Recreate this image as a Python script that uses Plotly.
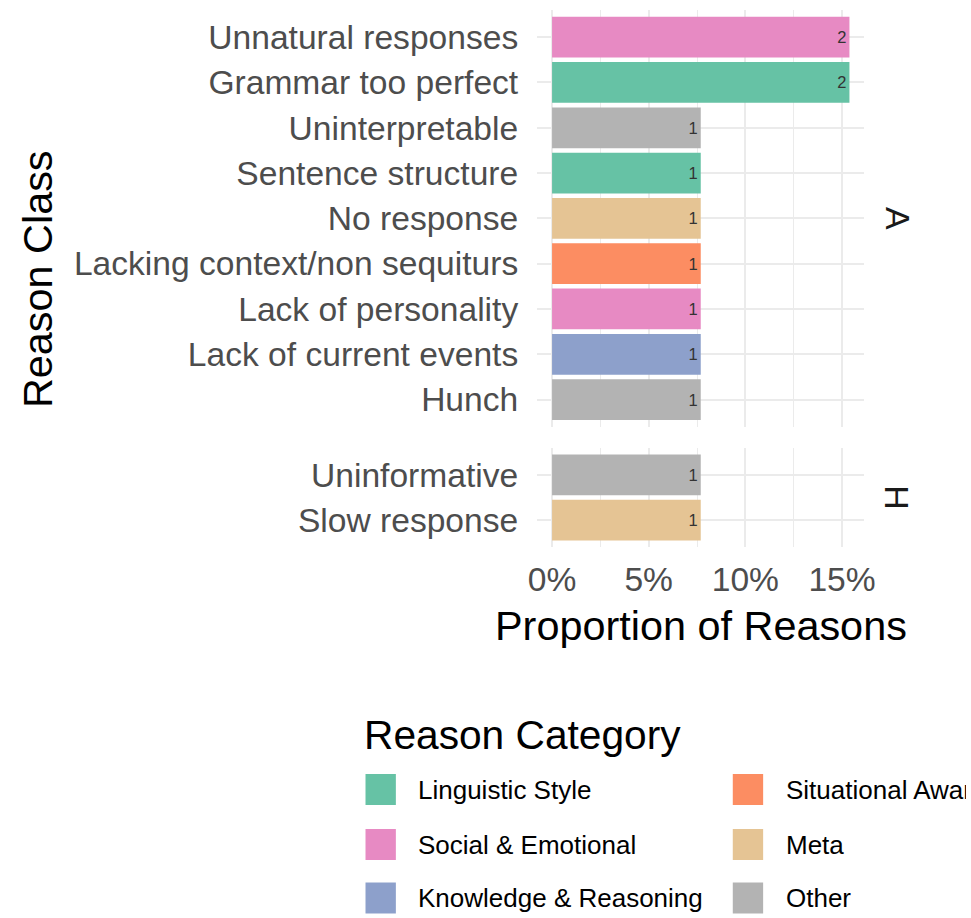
import plotly.graph_objects as go

# ---------------- data ----------------
categories = ["Linguistic Style", "Social & Emotional", "Knowledge & Reasoning",
              "Situational Awareness", "Meta", "Other"]
cat_colors = ["#66C2A5", "#E78AC3", "#8DA0CB", "#FC8D62", "#E5C494", "#B3B3B3"]

a_classes = ["Unnatural responses", "Grammar too perfect", "Uninterpretable",
             "Sentence structure", "No response", "Lacking context/non sequiturs",
             "Lack of personality", "Lack of current events", "Hunch"]
a_counts = [2, 2, 1, 1, 1, 1, 1, 1, 1]
a_cats = ["Social & Emotional", "Linguistic Style", "Other", "Linguistic Style", "Meta",
          "Situational Awareness", "Social & Emotional", "Knowledge & Reasoning", "Other"]

h_classes = ["Uninformative", "Slow response"]
h_counts = [1, 1]
h_cats = ["Other", "Meta"]

panel_labels = ["A", "H"]

# ---------------- helpers ----------------
W, H = 971, 918
FONT = "Liberation Sans, Arial, Helvetica, sans-serif"
color_of = dict(zip(categories, cat_colors))
total = sum(a_counts) + sum(h_counts)


def px_x(p):
    return p / W


def px_y(p):
    return 1 - p / H


pitch = 45.3
a_top = 10
a_bot = a_top + pitch * (len(a_classes) - 1 + 1.2)
h_top = a_bot + 21
h_bot = h_top + pitch * (len(h_classes) - 1 + 1.2)
x_left, x_right = 539.3, 873.3

fig = go.Figure()

for classes, counts, cats, ax in [(a_classes, a_counts, a_cats, "y"),
                                  (h_classes, h_counts, h_cats, "y2")]:
    fig.add_trace(go.Bar(
        y=classes,
        x=[c / total for c in counts],
        orientation="h",
        width=0.9,
        marker=dict(color=[color_of[c] for c in cats], line=dict(width=0)),
        text=[str(c) for c in counts],
        textposition="inside",
        insidetextanchor="end",
        textangle=0,
        textfont=dict(size=16.5, color="#333333", family=FONT),
        xaxis="x" if ax == "y" else "x2",
        yaxis=ax,
        showlegend=False,
        hoverinfo="skip",
    ))

xmax = max(a_counts + h_counts) / total
xr = [-0.05 * xmax, 1.05 * xmax]
grid = "#EBEBEB"
TICK_SIZE = 33.6

xcommon = dict(
    range=xr, autorange=False, dtick=0.05, tick0=0, tickformat=".0%",
    showgrid=True, gridcolor=grid, gridwidth=2.4,
    minor=dict(dtick=0.025, tick0=0, showgrid=True, gridcolor=grid, gridwidth=1.4),
    zeroline=False, showline=False, ticks="",
    domain=[px_x(x_left), px_x(x_right)],
    tickfont=dict(size=TICK_SIZE, color="#4D4D4D", family=FONT),
)

ycommon = dict(
    type="category", showgrid=True, gridcolor=grid, gridwidth=2.4,
    zeroline=False, showline=False, ticks="",
    tickfont=dict(size=TICK_SIZE, color="#4D4D4D", family=FONT),
    ticklabelstandoff=18,
)

fig.update_layout(
    width=W, height=H,
    margin=dict(l=0, r=0, t=0, b=0),
    paper_bgcolor="white", plot_bgcolor="white",
    font=dict(family=FONT),
    bargap=0.1,
    xaxis=dict(anchor="y", showticklabels=False, **xcommon),
    xaxis2=dict(anchor="y2", showticklabels=True, ticklabelstandoff=9, **xcommon),
    yaxis=dict(domain=[px_y(a_bot), px_y(a_top)],
               categoryorder="array", categoryarray=a_classes[::-1],
               range=[-0.6, len(a_classes) - 1 + 0.6], anchor="x", **ycommon),
    yaxis2=dict(domain=[px_y(h_bot), px_y(h_top)],
                categoryorder="array", categoryarray=h_classes[::-1],
                range=[-0.6, len(h_classes) - 1 + 0.6], anchor="x2", **ycommon),
)

annotations = []
shapes = []

# facet strip labels
for lab, top, bot in [(panel_labels[0], a_top, a_bot), (panel_labels[1], h_top, h_bot)]:
    annotations.append(dict(
        text=lab, x=px_x(907), y=px_y((top + bot) / 2), xref="paper", yref="paper",
        xanchor="center", yanchor="middle", showarrow=False, textangle=90,
        font=dict(size=34, color="#1A1A1A", family=FONT)))

# axis titles
annotations.append(dict(
    text="Proportion of Reasons", x=px_x((x_left + x_right) / 2), y=px_y(626),
    xref="paper", yref="paper", xanchor="center", yanchor="middle", showarrow=False,
    font=dict(size=41.4, color="black", family=FONT)))
annotations.append(dict(
    text="Reason Class", x=px_x(29), y=px_y((a_top + h_bot) / 2),
    xref="paper", yref="paper", xanchor="center", yanchor="middle", showarrow=False,
    textangle=-90, font=dict(size=41.4, color="black", family=FONT)))

# legend (ggplot-like, two columns filled column-wise, cut at the right page edge)
annotations.append(dict(
    text="Reason Category", x=px_x(360), y=px_y(735), xref="paper", yref="paper",
    xanchor="left", yanchor="middle", showarrow=False,
    font=dict(size=40.7, color="black", family=FONT)))
col_x = [364, 739]
row_y = [789.5, 844.5, 898]
key = 31
for i, (cat, col) in enumerate(zip(categories, cat_colors)):
    c, r = divmod(i, 3)
    kx, ky = col_x[c], row_y[r]
    shapes.append(dict(type="rect", xref="paper", yref="paper",
                       x0=px_x(kx), x1=px_x(kx + key),
                       y0=px_y(ky + key / 2), y1=px_y(ky - key / 2),
                       fillcolor=col, line=dict(width=0)))
    lx = kx + 52
    annotations.append(dict(
        text=cat, x=px_x(lx), y=px_y(ky), xref="paper", yref="paper",
        xanchor="left", yanchor="middle", showarrow=False, align="left",
        width=W - lx, height=34,
        font=dict(size=26, color="black", family=FONT)))

fig.update_layout(annotations=annotations, shapes=shapes)

fig.write_html(
    "out.html", config={"displayModeBar": False},
    post_script="document.body.style.margin='0';document.body.style.overflow='hidden';"
                "document.documentElement.style.overflow='hidden';")
